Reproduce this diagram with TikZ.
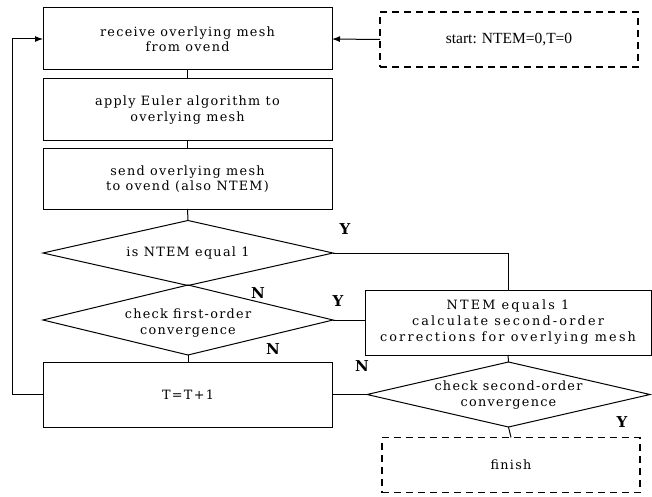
\documentclass[tikz,border=0pt]{standalone}
\usepackage{fontspec}
\usetikzlibrary{shapes.geometric,arrows.meta}
\newfontfamily\boxfont{DejaVu Serif}[LetterSpace=10]
\newfontfamily\widefont{DejaVu Serif}[LetterSpace=17]
\newfontfamily\startfont{Liberation Serif}
\newfontfamily\lblfont{DejaVu Serif}[BoldFont=DejaVu Serif Bold]
\begin{document}
\begin{tikzpicture}[x=1pt,y=-1pt,
  every node/.style={font=\boxfont\fontsize{12.8}{15.5}\selectfont, align=center, inner sep=0pt, outer sep=0pt},
  procbox/.style={draw, line width=1pt, minimum width=289pt, minimum height=62pt},
  dashbox/.style={draw, dashed, dash pattern=on 7pt off 5pt, line width=1.1pt, minimum width=258pt, minimum height=55pt},
  decide/.style={draw, shape=diamond, line width=1pt, aspect=4.46, minimum width=290pt, minimum height=65pt},
  yn/.style={font=\lblfont\fontsize{15}{15}\selectfont\bfseries},
  conn/.style={line width=1pt},
  tip/.style={-{Latex[length=8pt,width=6pt]}}
]
\useasboundingbox (0,0) rectangle (652,497);
\node[procbox] (recv) at (187.5,39) {receive overlying mesh\\from ovend};
\node[procbox] (euler) at (187.5,110) {apply Euler algorithm to\\overlying mesh};
\node[procbox, minimum height=60pt] (send) at (187.5,179) {send overlying mesh\\to ovend (also NTEM)};
\node[decide] (d1) at (188,253) {};
\node (d1t) at (188,253) {is NTEM equal 1};
\node[decide, minimum height=70pt] (d2) at (188,320) {};
\node (d2t) at (188,323) {check first-order\\convergence};
\node[procbox, minimum height=65pt] (tinc) at (188,394.5) {T=T+1};
\node[dashbox] (start) at (509,39.5) {\startfont\fontsize{15.5}{16}\selectfont start: NTEM=0,T=0};
\node[procbox, minimum width=286pt, minimum height=65pt, font=\widefont\fontsize{12.8}{16}\selectfont] (ntem) at (508,322.5) {NTEM equals 1\\calculate second-order\\corrections for overlying mesh};
\node[decide, minimum width=283pt, aspect=4.35] (d3) at (508.5,394.5) {};
\node (d3t) at (508.5,395) {check second-order\\convergence};
\node[dashbox] (finish) at (511,465) {finish};
\coordinate (fb) at (12,394.5);
% connectors
\draw[conn] (recv.south) -- (euler.north);
\draw[conn] (euler.south) -- (send.north);
\draw[conn] (send.south) -- (d1.north);
\draw[conn] (d1.south) -- (d2.north);
\draw[conn] (d2.south) -- (tinc.north);
\draw[conn,tip] (start.west) -- (recv.east);
\draw[conn,tip] (tinc.west) -- (fb) |- (recv.west);
\draw[conn] (d1.east) -| (ntem.north);
\draw[conn] (d2.east) -- (d2.east -| ntem.west);
\draw[conn] (ntem.south) -- (d3.north);
\draw[conn] (tinc.east) -- (d3.west);
\draw[conn] (d3.south) -- (finish.north);
% labels
\node[yn] (y1) at (345,229) {Y};
\node[yn] (n1) at (258,293) {N};
\node[yn] (y2) at (338,301) {Y};
\node[yn] (n2) at (273,349) {N};
\node[yn] (n3) at (362,366) {N};
\node[yn] (y3) at (622,422) {Y};
\end{tikzpicture}
\end{document}
